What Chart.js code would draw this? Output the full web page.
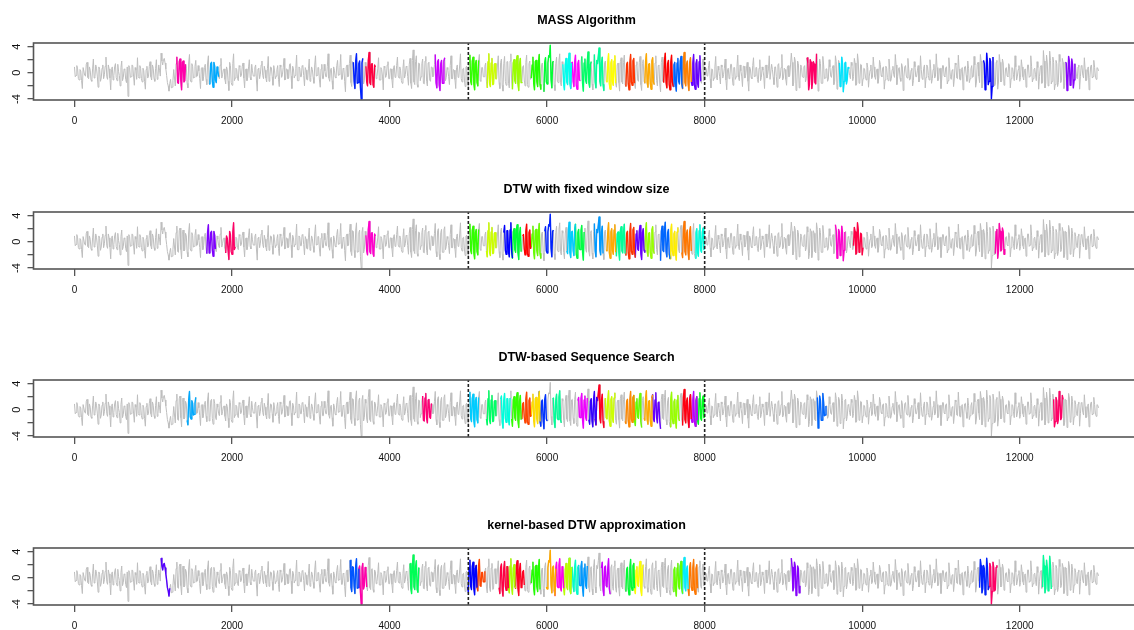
<!DOCTYPE html>
<html>
<head>
<meta charset="utf-8">
<script src="https://cdn.jsdelivr.net/npm/chart.js@4.4.1/dist/chart.umd.min.js"></script>
<style>
  html, body { margin: 0; padding: 0; background: #fff; overflow: hidden; }
  body { width: 1134px; height: 630px; position: relative; }
  canvas { position: absolute; left: 0; }
</style>
</head>
<body>
<canvas id="c1" width="1141" height="168" style="top:0px"></canvas>
<canvas id="c2" width="1141" height="168" style="top:169px"></canvas>
<canvas id="c3" width="1141" height="168" style="top:337px"></canvas>
<canvas id="c4" width="1141" height="168" style="top:505px"></canvas>
<script>
// the series shared by all four panels: one value every 20 steps (0 .. 13000) ...
const step = 20
const signal = [
  0.9, -0.4, 0.6, -1.1, 0.3, -2.4, 0.8, -0.5, 1.6, -0.9, 0.4, -1.3, 2.1, -0.6, 0.7, -2.2, 0.5, -0.8, 1.2, -0.3, 2.4, -1.0, 0.6, -2.6, 0.9, -0.4, 1.4, -1.2, 0.2, -2.0, 1.8, -0.7, 0.5, -1.5, -3.6, 0.8, -0.6, 1.1, -1.9, 0.4, 2.3, -0.8, 0.7, -1.4, 0.3, -2.5, 1.0, -0.5, 1.7, -1.1,
  0.7, -1.3, 2.0, -0.6, 0.4, 3.0, 1.2, 2.2, 0.6, -1.5, -2.8, -1.0, -2.2, 0.5, -2.0, 2.4, -1.6, 2.1, -2.6, 1.8, -1.2, 0.9, -2.3, 2.8, -1.4, 1.0, -0.7, 1.9, -0.5, 0.3, -2.4, 0.8, -0.6, 1.3, -1.8, 2.6, -1.2, 1.6, -2.2, 1.0, -1.5, 0.4, -0.9, 2.2, -0.3, 0.6, -1.7, 0.5, -2.7, 1.1,
  -1.9, 2.9, -0.8, 0.5, -1.2, 0.9, -0.4, 1.5, -2.3, 0.6, -0.7, 2.0, -1.1, 0.3, -0.5, 1.2, -2.8, 0.7, -0.2, 1.8, -0.9, 0.4, -1.4, 2.5, -0.6, 0.8, -1.9, 0.3, -0.5, 1.1, -2.1, 0.9, -0.3, 2.2, -1.0, 0.5, -0.8, 1.4, -2.4, 0.6, -0.4, 2.7, -1.2, 0.7, -0.6, 1.0, -2.0, 0.4, -1.1, 2.1,
  -0.7, 0.5, -1.6, 2.6, -0.4, 0.8, -2.2, 1.3, -0.9, 0.3, -0.6, 2.9, -1.3, 0.7, -2.5, 0.4, -0.8, 1.9, -0.3, 2.8, -1.0, 0.6, -2.9, 1.2, -0.5, 2.7, -2.1, 1.6, -2.4, 2.9, -1.5, 1.8, -4.0, 2.2, -1.2, 1.0, -2.0, 3.1, -1.8, 1.4, -2.2, 0.9, -0.6, 2.3, -1.1, 0.5, -2.6, 0.8, -0.4, 1.7,
  -0.9, 0.6, -2.3, 1.1, -0.5, 2.4, -0.8, 0.4, -1.6, 2.0, -0.3, 0.9, -1.9, 2.2, -2.4, 3.5, -1.8, 2.6, -2.2, 1.4, -0.6, 2.1, -1.7, 2.5, -2.0, 1.6, -1.3, 0.8, -0.4, 2.8, -2.3, 2.0, -2.7, 1.9, -1.6, 2.3, -0.7, 0.5, -1.8, 2.6, -0.9, 0.4, -2.4, 1.2, -0.5, 2.9, -1.4, 0.7, -2.1, 1.0,
  -2.2, 2.7, -1.8, 2.4, -2.6, 1.9, -2.0, 2.8, -1.3, 0.8, -0.6, 1.5, -2.3, 2.9, -2.1, 2.2, -1.7, 1.4, -0.9, 2.6, -2.4, 2.1, -2.8, 2.5, -1.9, 1.7, -2.3, 2.9, -2.5, 2.0, -1.6, 2.6, -2.7, 2.2, -1.4, 1.1, -2.0, 2.7, -2.2, 1.8, -0.8, 2.4, -2.6, 1.9, -2.1, 2.8, -2.5, 1.5, -2.9, 2.3,
  -1.7, 2.6, 4.2, -2.3, 1.8, -2.7, 2.4, -1.5, 2.9, -2.0, 1.3, -2.6, 2.2, -1.8, 3.0, -2.4, 1.6, -2.1, 2.7, -2.5, 1.9, -1.2, 2.5, -2.8, 2.1, -1.6, 3.2, -2.2, 1.7, -2.6, 2.8, -2.3, 1.4, 3.8, -2.0, 2.4, -2.7, 1.8, -1.4, 2.9, -2.5, 2.0, -1.9, 2.6, -2.2, 1.5, -2.8, 2.3, -1.7, 2.7,
  -2.1, 1.6, -2.6, 2.8, -1.9, 2.2, -2.4, 1.7, -1.3, 2.5, -2.7, 2.0, -1.6, 2.9, -2.2, 1.4, -2.5, 2.3, -1.8, 2.6, -2.0, 1.2, -2.9, 2.4, -1.5, 3.0, -2.3, 1.9, -2.6, 2.7, -2.1, 1.6, -2.8, 2.2, -1.7, 2.5, -2.4, 3.1, -2.0, 1.8, -2.7, 2.3, -1.9, 2.8, -2.5, 2.0, -2.2, 2.6, -1.6, 2.1,
  -1.0, 0.6, -0.4, 1.8, -2.3, 0.5, -0.8, 2.5, -1.1, 0.4, -1.7, 0.9, -0.3, 2.1, -2.6, 0.7, -0.5, 1.3, -1.9, 0.8, -0.6, 2.7, -1.2, 0.3, -2.1, 1.0, -0.4, 1.6, -2.8, 0.6, -0.9, 2.3, -0.5, 0.8, -1.5, 2.0, -0.7, 0.4, -2.4, 1.2, -0.3, 2.6, -1.0, 0.5, -1.8, 0.9, -2.2, 1.4, -0.6, 2.8,
  -0.8, 0.5, -1.9, 1.1, -0.4, 3.0, -2.0, 2.4, -2.7, 1.8, -2.3, 1.2, -0.6, 0.9, -1.4, 2.3, -2.6, 2.0, -2.4, 1.7, -1.5, 2.9, -2.8, 2.1, -1.6, 2.5, -0.9, 0.6, -1.3, 2.0, -0.5, 0.7, -1.8, 2.6, -2.5, 1.9, -2.1, 2.4, -2.9, 1.5, -1.7, 0.8, -0.4, 1.6, -1.2, 2.2, -1.9, 2.9, -1.6, 1.3,
  -2.0, 0.7, -0.5, 1.5, -2.2, 0.4, -0.9, 2.4, -0.6, 0.3, -1.6, 1.9, -0.4, 0.8, -2.5, 1.0, -0.7, 2.1, -1.3, 0.5, -0.3, 2.8, -1.8, 0.6, -0.8, 1.4, -2.7, 0.9, -0.5, 2.2, -1.1, 0.4, -2.0, 1.7, -0.6, 0.3, -1.4, 2.6, -0.9, 0.7, -2.3, 1.2, -0.4, 2.0, -1.6, 0.5, -0.8, 2.9, -1.2, 0.6,
  -2.4, 1.1, -0.5, 0.8, -1.7, 2.3, -0.6, 0.4, -2.1, 1.5, -0.8, 2.7, -1.0, 0.5, -2.6, 0.9, -0.4, 1.8, -1.5, 0.6, -0.7, 2.5, -2.2, 1.3, -0.5, 2.8, -2.3, 1.9, -2.6, 3.0, -1.8, 2.2, -4.0, 2.4, -2.0, 1.6, -2.5, 2.8, -1.4, 2.1, -1.9, 0.7, -0.5, 1.4, -2.3, 0.8, -0.3, 2.6, -1.1, 0.5,
  -1.3, 2.0, -0.6, 0.4, -2.2, 1.2, -0.7, 2.6, -1.4, 0.5, -0.3, 1.7, -2.5, 0.8, -1.6, 3.4, -2.3, 2.7, -2.0, 3.3, -1.7, 2.4, -2.6, 1.9, -2.1, 2.8, -1.5, 2.2, -2.4, 1.6, -2.7, 2.5, -1.9, 2.1, -2.3, 1.4, -0.6, 0.9, -2.5, 1.1, -0.4, 2.3, -1.2, 0.5, -2.6, 1.0, -0.8, 1.9, -0.5, 0.8,
  0.3
]
// ... and the values half way between them (10, 30, 50 ...)
const signalHalf = [
  -0.6, 1.1, -0.9, 0.5, -1.2, 0.8, -0.4, 1.3, -0.7, 0.9, -1.1, 0.6, -0.8, 1.2, -0.5, 0.9, -1.3, 0.7, -0.9, 1.0, -0.6, 1.2, -0.8, 0.5, -1.1, 0.9, -0.7, 1.3, -0.4, 0.8, -1.2, 0.6, -1.0, 0.9, 1.1, -0.7, 1.2, -0.5, 0.8, -1.0, -0.6, 1.1, -0.9, 0.7, -1.3, 0.5, -0.8, 1.0, -0.6, 1.2,
  -0.9, 0.7, -1.0, 1.2, -0.5, 1.8, 2.0, 1.5, -0.4, -2.0, -1.6, -2.3, -1.2, -0.8, 1.4, -1.5, 1.7, -1.2, 1.6, -1.4, 1.3, -1.6, 1.5, -1.1, 1.4, -0.8, 1.0, -0.6, 1.1, -0.9, 0.7, -1.2, 0.8, -1.0, 1.5, -1.7, 1.4, -1.3, 1.6, -1.1, 0.9, -0.6, 1.2, -0.8, 0.5, -1.0, 0.9, -1.3, 1.6, -1.5,
  1.4, -1.2, 0.7, -0.9, 1.1, -0.6, 1.0, -0.8, 0.5, -1.2, 0.9, -0.7, 1.3, -0.5, 0.8, -1.1, 0.6, -0.9, 1.2, -0.4, 1.0, -0.8, 0.7, -1.3, 0.9, -0.6, 1.1, -0.9, 0.5, -1.0, 1.2, -0.7, 0.8, -1.1, 0.6, -0.9, 1.3, -0.5, 1.0, -0.8, 0.7, -1.2, 0.9, -0.6, 1.1, -0.4, 0.8, -1.0, 0.6, -1.3,
  0.9, -0.7, 1.2, -0.5, 0.8, -1.1, 0.6, -0.9, 1.3, -0.6, 1.0, -0.8, 0.5, -1.2, 0.9, -0.7, 1.1, -0.4, 0.8, -1.0, 0.7, -1.3, 0.9, -0.6, 1.4, -1.5, 1.7, -1.3, 1.8, -1.6, 1.4, -2.2, 1.5, -1.7, 1.6, -1.4, 1.9, -1.5, 1.3, -1.8, 1.2, -0.9, 0.6, -1.1, 0.8, -0.5, 1.0, -0.7, 1.2, -0.9,
  0.6, -1.0, 0.8, -0.7, 1.1, -0.5, 0.9, -1.2, 0.7, -0.8, 1.0, -0.6, 1.3, -1.6, 1.9, -1.4, 1.7, -1.8, 1.5, -1.2, 1.4, -1.6, 1.8, -1.3, 1.5, -1.1, 0.9, -0.6, 1.3, -1.5, 1.7, -1.9, 1.4, -1.6, 1.8, -1.2, 0.8, -0.6, 1.1, -0.9, 0.5, -1.0, 0.8, -0.7, 1.2, -0.9, 0.6, -1.1, 0.9, -1.4,
  1.6, -1.3, 1.8, -1.7, 1.4, -1.5, 1.9, -1.2, 0.8, -0.6, 1.0, -1.4, 1.7, -1.6, 1.5, -1.8, 1.3, -0.9, 1.2, -1.5, 1.6, -1.9, 1.4, -1.3, 1.7, -1.6, 1.8, -1.4, 1.5, -1.2, 1.9, -1.7, 1.3, -1.5, 0.9, -1.1, 1.6, -1.8, 1.4, -1.0, 1.2, -1.6, 1.7, -1.4, 1.5, -1.8, 1.3, -1.7, 1.6, -1.4,
  1.5, 2.4, -1.0, 1.6, -1.8, 1.4, -1.3, 1.9, -1.5, 1.7, -1.6, 1.2, -1.4, 1.8, -1.7, 1.5, -1.3, 1.6, -1.9, 1.4, -1.1, 1.7, -1.6, 1.5, -1.2, 1.8, -1.5, 1.3, -1.7, 1.6, -1.4, 1.9, 2.6, -1.3, 1.5, -1.8, 1.6, -1.2, 1.4, -1.7, 1.5, -1.3, 1.8, -1.6, 1.2, -1.5, 1.7, -1.4, 1.6, -1.8,
  1.3, -1.7, 1.5, -1.4, 1.8, -1.6, 1.2, -1.1, 1.6, -1.8, 1.4, -1.3, 1.7, -1.5, 1.3, -1.6, 1.8, -1.4, 1.5, -1.2, 1.1, -1.7, 1.6, -1.3, 1.9, -1.5, 1.4, -1.8, 1.6, -1.4, 1.2, -1.7, 1.5, -1.3, 1.8, -1.6, 1.9, -1.5, 1.3, -1.7, 1.6, -1.4, 1.5, -1.8, 1.4, -1.6, 1.7, -1.3, 1.5, -1.2,
  0.8, -0.5, 1.1, -0.9, 0.6, -1.2, 0.9, -0.7, 1.0, -0.6, 1.2, -0.8, 0.7, -1.1, 0.5, -0.9, 1.3, -0.6, 0.8, -1.0, 0.9, -0.7, 1.2, -0.5, 1.0, -0.8, 0.6, -1.3, 0.9, -0.7, 1.1, -0.6, 0.8, -1.0, 0.7, -1.2, 0.9, -0.5, 1.1, -0.8, 0.6, -1.0, 1.3, -0.7, 0.9, -0.6, 1.2, -0.9, 0.8, -1.1,
  0.7, -1.0, 0.9, -0.6, 1.2, 1.6, -1.5, 1.8, -1.7, 1.4, -1.2, 0.8, -0.7, 1.1, -0.9, 1.5, -1.8, 1.6, -1.4, 1.3, -1.7, 1.9, -1.5, 1.4, -1.6, 1.2, -0.8, 0.6, -1.0, 0.9, -0.7, 1.1, -1.3, 1.7, -1.6, 1.5, -1.8, 1.4, -1.3, 1.6, -1.0, 0.7, -0.9, 1.1, -0.6, 1.5, -1.7, 1.8, -1.4, 1.2,
  -0.9, 0.6, -1.1, 0.8, -0.5, 1.2, -0.7, 0.9, -1.0, 0.6, -0.8, 1.3, -0.6, 0.9, -1.1, 0.7, -1.2, 0.5, -0.9, 1.0, -0.7, 1.2, -0.6, 0.8, -1.3, 0.9, -0.5, 1.1, -0.8, 0.6, -1.0, 0.7, -1.2, 0.9, -0.6, 1.1, -0.8, 0.5, -1.0, 1.2, -0.7, 0.9, -1.1, 0.6, -0.9, 1.3, -0.5, 0.8, -1.0, 0.7,
  -0.8, 1.1, -0.6, 0.9, -1.2, 0.7, -1.0, 0.5, -0.8, 1.2, -0.9, 0.6, -1.1, 0.8, -0.5, 1.0, -1.3, 0.7, -0.9, 1.1, -0.6, 1.2, -1.4, 1.6, -1.5, 1.8, -1.7, 1.4, -1.9, 1.6, -1.3, 1.7, -2.1, 1.5, -1.8, 1.9, -1.4, 1.6, -1.2, 1.5, -1.1, 0.8, -0.6, 1.0, -0.9, 0.7, -1.2, 0.9, -0.5, 1.1,
  -0.7, 0.9, -1.1, 0.6, -0.8, 1.2, -0.5, 1.0, -0.9, 0.7, -1.2, 0.8, -0.6, 1.1, -1.4, 1.8, -1.6, 1.5, -1.7, 1.9, -1.3, 1.6, -1.8, 1.4, -1.5, 1.7, -1.2, 1.6, -1.9, 1.5, -1.4, 1.8, -1.6, 1.3, -1.1, 0.8, -0.9, 1.2, -0.6, 1.0, -0.8, 0.5, -1.1, 0.9, -0.7, 1.2, -0.6, 0.8, -1.0, 0.7
]

const xTicks = [0, 2000, 4000, 6000, 8000, 10000, 12000]
const yTicks = [-4, -2, 0, 2, 4]
const cuts = [5000, 8000]
const segLen = 120

const titles = ['MASS Algorithm', 'DTW with fixed window size', 'DTW-based Sequence Search', 'kernel-based DTW approximation']

// centre of every highlighted match, and its colour
const massCenters = [1350, 1770, 3600, 3760, 4640, 5070, 5300, 5620, 5860, 6020, 6255, 6360, 6500, 6660, 6810, 7055, 7300, 7540, 7660, 7770, 7890, 9360, 9770, 11600, 12640]
const massColors = ['#ff00aa', '#00aaff', '#0022ff', '#ff0040', '#cc00ff', '#33ff00', '#ccff00', '#99ff00', '#22ff00', '#00ff33', '#00ffee', '#ff00ff', '#00ff66', '#00ff99', '#ffff00', '#ff3300', '#ffaa00', '#ff0000', '#0066ff', '#ff8000', '#6600ff', '#ff0066', '#00e5ff', '#0000ff', '#8800ff']

const fixedCenters = [1735, 1980, 3760, 5070, 5290, 5505, 5610, 5745, 5860, 6025, 6305, 6410, 6655, 6810, 6935, 7060, 7180, 7300, 7500, 7605, 7770, 7935, 9720, 9950, 11750]
const fixedColors = ['#7f00ff', '#ff0066', '#ff00cc', '#33ff00', '#ccff00', '#0000ff', '#00ff33', '#ff0000', '#66ff00', '#0022ff', '#00ccff', '#00ff44', '#0099ff', '#ffaa00', '#00ff99', '#ff3300', '#6600ff', '#99ff00', '#0066ff', '#ffee00', '#ff7700', '#00ffdd', '#ff00cc', '#ff0044', '#ff00aa']

const searchCenters = [1485, 4480, 5070, 5290, 5470, 5610, 5740, 5850, 5945, 6125, 6450, 6585, 6665, 6800, 7050, 7140, 7285, 7385, 7620, 7775, 7855, 7940, 9485, 12490]
const searchColors = ['#00aaff', '#ff0077', '#00ccff', '#00ff66', '#00ffdd', '#33ff00', '#ff4400', '#ffdd00', '#0033ff', '#00ff99', '#ee00ff', '#3300ff', '#ff0022', '#ccff00', '#ff8800', '#66ff00', '#ffaa00', '#6600ff', '#99ff00', '#ff0011', '#bb00ff', '#00ff22', '#0066ff', '#ff0066']

const kernelCenters = [1155, 3555, 3655, 4320, 5050, 5150, 5450, 5540, 5650, 5855, 6050, 6150, 6260, 6340, 6450, 6745, 7055, 7160, 7660, 7735, 7850, 9155, 11550, 11655, 12345]
const kernelColors = ['#5500ff', '#0055ff', '#ff00aa', '#00ff55', '#0000ff', '#ff4400', '#ff0044', '#aaff00', '#ff0022', '#22ff00', '#ffaa00', '#ff00ee', '#bbff00', '#00ffcc', '#0099ff', '#cc00ff', '#00ff33', '#ffff00', '#66ff00', '#00eeff', '#ff7700', '#8800ff', '#0022ff', '#ff0066', '#00ff99']

const yMin = -4.15, yMax = 4.55

const series = []
signal.forEach((v, i) => {
  series.push({ x: i * step, y: v })
  if (i < signalHalf.length) series.push({ x: i * step + step / 2, y: signalHalf[i] })
})

function segment(center) {
  return series.filter(p => p.x >= center - segLen / 2 && p.x <= center + segLen / 2)
}

const boxPlugin = {
  id: 'box',
  afterDraw(chart) {
    const a = chart.chartArea, ctx = chart.ctx
    ctx.save()
    ctx.strokeStyle = '#555'
    ctx.lineWidth = 1.6
    ctx.strokeRect(a.left, a.top, a.right - a.left, a.bottom - a.top)
    ctx.restore()
  }
}

function makePanel(id, title, centers, colors) {
  const datasets = []
  cuts.forEach(c => datasets.push({
    data: [{ x: c, y: yMin }, { x: c, y: yMax }],
    borderColor: '#222', borderWidth: 1.6, borderDash: [3, 2], order: 0
  }))
  centers.forEach((c, i) => datasets.push({
    data: segment(c), borderColor: colors[i], borderWidth: 1.4, order: 1
  }))
  datasets.push({ data: series, borderColor: '#bebebe', borderWidth: 1, order: 2 })

  return new Chart(document.getElementById(id), {
    type: 'line',
    data: { datasets },
    options: {
      responsive: false,
      animation: false,
      events: [],
      layout: { padding: { left: 0, right: 1.5, top: 0, bottom: 0 } },
      elements: {
        point: { radius: 0 },
        line: { tension: 0, borderJoinStyle: 'round', fill: false }
      },
      plugins: {
        legend: { display: false },
        tooltip: { enabled: false },
        title: {
          display: true, text: title, fullSize: false, color: '#000',
          font: { family: 'Liberation Sans', size: 12.5, weight: 'bold' },
          padding: { top: 13.5, bottom: 14.5 }
        }
      },
      scales: {
        x: {
          type: 'linear', min: -520, max: 13520,
          afterBuildTicks: s => { s.ticks = xTicks.map(v => ({ value: v })) },
          afterFit: s => { s.height = 68 },
          border: { display: false },
          grid: { drawOnChartArea: false, drawTicks: true, tickLength: 7, color: '#555', lineWidth: 1.3 },
          ticks: {
            autoSkip: false, maxRotation: 0, minRotation: 0, padding: 8, color: '#111',
            font: { family: 'Liberation Sans', size: 10 },
            callback: v => String(v)
          }
        },
        y: {
          type: 'linear', min: yMin, max: yMax,
          afterBuildTicks: s => { s.ticks = yTicks.map(v => ({ value: v })) },
          afterFit: s => { s.width = 33.5 },
          border: { display: false },
          grid: { drawOnChartArea: false, drawTicks: true, tickLength: 6, color: '#555', lineWidth: 1.3 },
          ticks: {
            autoSkip: false, minRotation: 90, maxRotation: 90, crossAlign: 'center', padding: 6, color: '#111',
            font: { family: 'Liberation Sans', size: 11 },
            callback: v => (v % 4 === 0 ? String(v) : '')
          }
        }
      }
    },
    plugins: [boxPlugin]
  })
}

makePanel('c1', titles[0], massCenters, massColors)
makePanel('c2', titles[1], fixedCenters, fixedColors)
makePanel('c3', titles[2], searchCenters, searchColors)
makePanel('c4', titles[3], kernelCenters, kernelColors)
</script>
</body>
</html>
